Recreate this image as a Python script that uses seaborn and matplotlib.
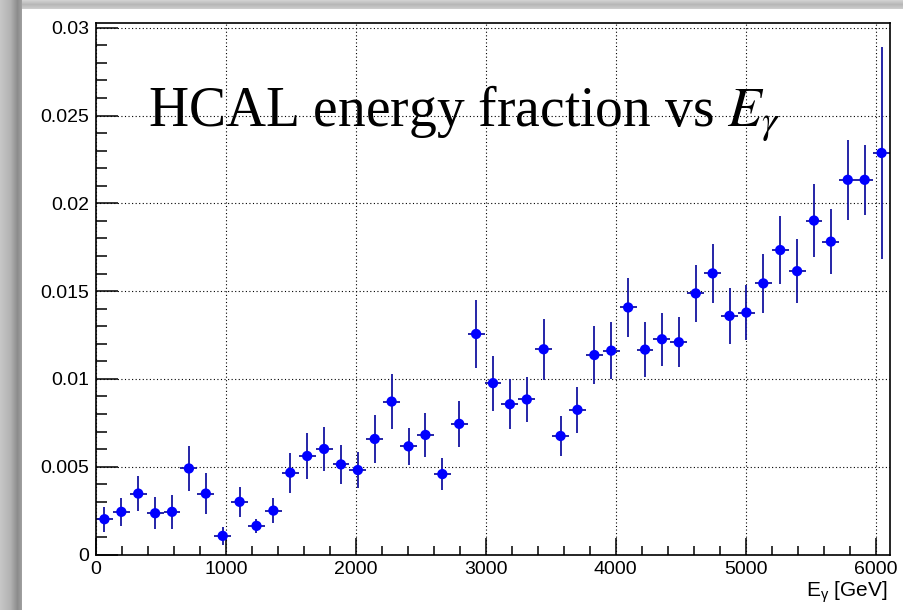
import numpy as np
import pandas as pd
import matplotlib
matplotlib.use("Agg")
import matplotlib.pyplot as plt
from matplotlib.ticker import MultipleLocator, FuncFormatter
import seaborn as sns

# Photon energy binning [GeV]
bin_width = 130.0
n_bins = 47

# HCAL energy fraction per bin and its statistical uncertainty
hcal_fraction = [
    0.00201, 0.00243, 0.00347, 0.00235, 0.00243, 0.00490, 0.00347, 0.00106,
    0.00300, 0.00163, 0.00250, 0.00466, 0.00561, 0.00601, 0.00513, 0.00481,
    0.00658, 0.00871, 0.00616, 0.00681, 0.00458, 0.00744, 0.01256, 0.00976,
    0.00856, 0.00883, 0.01169, 0.00675, 0.00824, 0.01136, 0.01161, 0.01407,
    0.01167, 0.01226, 0.01209, 0.01487, 0.01601, 0.01359, 0.01378, 0.01544,
    0.01734, 0.01614, 0.01902, 0.01782, 0.02134, 0.02134, 0.02287,
]
hcal_fraction_err = [
    0.00071, 0.00080, 0.00101, 0.00092, 0.00098, 0.00127, 0.00115, 0.00050,
    0.00087, 0.00040, 0.00069, 0.00114, 0.00130, 0.00123, 0.00110, 0.00103,
    0.00137, 0.00157, 0.00105, 0.00123, 0.00090, 0.00133, 0.00192, 0.00156,
    0.00141, 0.00129, 0.00173, 0.00114, 0.00130, 0.00163, 0.00162, 0.00168,
    0.00158, 0.00150, 0.00143, 0.00163, 0.00170, 0.00160, 0.00155, 0.00170,
    0.00193, 0.00183, 0.00210, 0.00187, 0.00227, 0.00200, 0.00603,
]

x_ticks = [0, 1000, 2000, 3000, 4000, 5000, 6000]
y_ticks = [0, 0.005, 0.01, 0.015, 0.02, 0.025, 0.03]

title_text = r"HCAL energy fraction vs $E_{\gamma}$"
x_label = r"$\mathregular{E_{\gamma}}$ [GeV]"

centers = bin_width * (np.arange(n_bins) + 0.5)
df = pd.DataFrame({"E": centers, "frac": hcal_fraction, "err": hcal_fraction_err})

sns.set_style("white")
plt.rcParams["font.family"] = ["Liberation Sans", "DejaVu Sans"]
plt.rcParams["mathtext.fontset"] = "stix"
plt.rcParams["text.color"] = "black"

W, H = 904, 610
fig = plt.figure(figsize=(W / 100, H / 100), dpi=100)

# Slide-style drop shadow along the left and top edges
bg = fig.add_axes([0, 0, 1, 1], zorder=0)
img = np.ones((H, W, 3))
lx = np.arange(22)
left_shade = np.interp(lx, [0, 10, 17, 21], [0.78, 0.70, 0.55, 0.62])
img[:, :22, :] = left_shade[None, :, None]
ty = np.arange(9)
top_shade = np.interp(ty, [0, 4, 8], [0.82, 0.72, 0.80])
img[:9, 22:, :] = top_shade[:, None, None]
bg.imshow(img, aspect="auto", extent=[0, W, H, 0], interpolation="nearest")
bg.set_xlim(0, W)
bg.set_ylim(H, 0)
bg.axis("off")

ax = fig.add_axes([96 / W, 55.5 / H, 794 / W, 532 / H], zorder=1)
ax.set_facecolor("white")

ax.errorbar(df["E"], df["frac"], yerr=df["err"], xerr=bin_width / 2,
            fmt="none", ecolor="#1414a0", elinewidth=1.3, capsize=0, zorder=2)
sns.scatterplot(data=df, x="E", y="frac", ax=ax, color="#0000ff", s=55,
                edgecolor="none", linewidth=0, zorder=3, legend=False)

ax.set_xlim(0, 6110)
ax.set_ylim(0, 0.0303)
ax.set_xlabel("")
ax.set_ylabel("")

ax.xaxis.set_major_locator(MultipleLocator(1000))
ax.xaxis.set_minor_locator(MultipleLocator(200))
ax.yaxis.set_major_locator(MultipleLocator(0.005))
ax.yaxis.set_minor_locator(MultipleLocator(0.001))
ax.xaxis.set_major_formatter(FuncFormatter(lambda v, p: "%g" % round(v, 6)))
ax.yaxis.set_major_formatter(FuncFormatter(lambda v, p: "%g" % round(v, 6)))

ax.tick_params(axis="both", which="both", direction="in", colors="black",
               labelcolor="black", width=1.1, labelsize=14,
               top=False, right=False, left=True, bottom=True)
ax.tick_params(axis="y", which="major", length=16, pad=5)
ax.tick_params(axis="y", which="minor", length=8)
ax.tick_params(axis="x", which="major", length=12.5, pad=5)
ax.tick_params(axis="x", which="minor", length=6.5)

for s in ax.spines.values():
    s.set_visible(True)
    s.set_color("black")
    s.set_linewidth(1.2)

ax.grid(True, which="major", color="black", linestyle=(0, (1, 2.2)), linewidth=0.8)
ax.set_axisbelow(True)

fig.text(888 / W, 1 - 597 / H, x_label, ha="right", va="baseline", fontsize=15,
         color="black", family=["Liberation Sans", "DejaVu Sans"])

fig.text(148 / W, 1 - 126 / H, title_text, ha="left", va="baseline",
         fontsize=40, color="black",
         family=["Liberation Serif", "DejaVu Serif"], zorder=5)

fig.savefig("out.png", dpi=100)
